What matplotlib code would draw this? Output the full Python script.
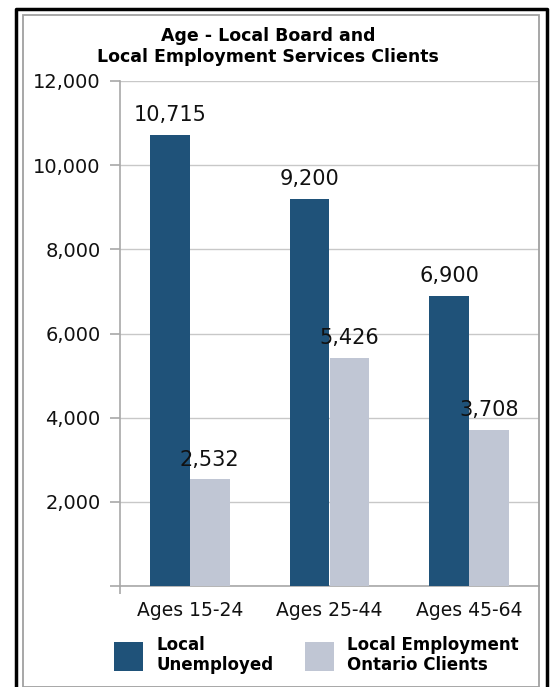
import numpy as np
import matplotlib
matplotlib.use("Agg")
import matplotlib.pyplot as plt
from matplotlib.lines import Line2D
from matplotlib.patches import Rectangle

# data
categories = ["Ages 15-24", "Ages 25-44", "Ages 45-64"]
unemployed = [10715, 9200, 6900]
eo_clients = [2532, 5426, 3708]
series_names = ["Local\nUnemployed", "Local Employment\nOntario Clients"]
yticks = [0, 2000, 4000, 6000, 8000, 10000, 12000]

dark = "#1F5279"
light = "#C0C6D4"
grid_col = "#C8C8C8"
axis_col = "#A8A8A8"

W, H = 550, 687
fig = plt.figure(figsize=(W / 100, H / 100), dpi=100)
plt.rcParams['font.family'] = ['DejaVu Sans']

ax = fig.add_axes([120 / W, 1 - 586 / H, (539 - 120) / W, (586 - 81) / H])

x = np.arange(len(categories))
bw = 0.286
b1 = ax.bar(x - bw / 2, unemployed, bw, color=dark, label=series_names[0], zorder=3)
b2 = ax.bar(x + bw / 2, eo_clients, bw, color=light, label=series_names[1], zorder=3)

ax.bar_label(b1, labels=[f"{v:,}" for v in unemployed], padding=7, fontsize=15, color="#111111")
ax.bar_label(b2, labels=[f"{v:,}" for v in eo_clients], padding=7, fontsize=15, color="#111111")

ax.set_xlim(-0.5, len(categories) - 0.5)
ax.set_ylim(0, 12000)
ax.set_yticks(yticks)
ax.set_yticklabels(["" if v == 0 else f"{v:,}" for v in yticks], fontsize=14, color="#111111")
ax.set_xticks(x)
ax.set_xticklabels(categories, fontsize=13.5, color="#111111")
ax.tick_params(axis='x', length=0, pad=11)
ax.tick_params(axis='y', length=7, width=1.2, color=axis_col, pad=7)
# small tick below the left end of the x axis
ax.set_xticks([-0.5], minor=True)
ax.tick_params(axis='x', which='minor', length=6, width=1.2, color=axis_col)

ax.yaxis.grid(True, color=grid_col, linewidth=1.0, zorder=0)
ax.set_axisbelow(True)
for s in ["top", "right"]:
    ax.spines[s].set_visible(False)
for s in ["left", "bottom"]:
    ax.spines[s].set_color(axis_col)
    ax.spines[s].set_linewidth(1.2)

fig.text(268 / W, 1 - 27 / H, "Age - Local Board and\nLocal Employment Services Clients",
         ha="center", va="top", fontsize=12.5, fontweight="bold", linespacing=1.2)

fig.legend(handles=[b1, b2], labels=series_names, loc="upper left",
           bbox_to_anchor=(107 / W, 1 - 629 / H), ncol=2, frameon=False,
           prop={"weight": "bold", "size": 12}, handlelength=1.75, handleheight=2.29,
           handletextpad=0.8, columnspacing=1.9, borderaxespad=0)

# inner grey frame and outer black frame
fig.patches.append(Rectangle((23 / W, 0), (539 - 23) / W, 1 - 15 / H, transform=fig.transFigure,
                             fill=False, edgecolor="#A0A0A0", linewidth=1.3))
fig.lines.append(Line2D([15.5 / W, 15.5 / W, 547 / W, 547 / W], [0, 1 - 9 / H, 1 - 9 / H, 0],
                        transform=fig.transFigure, color="black", linewidth=2.5))

fig.savefig("out.png", dpi=100)
